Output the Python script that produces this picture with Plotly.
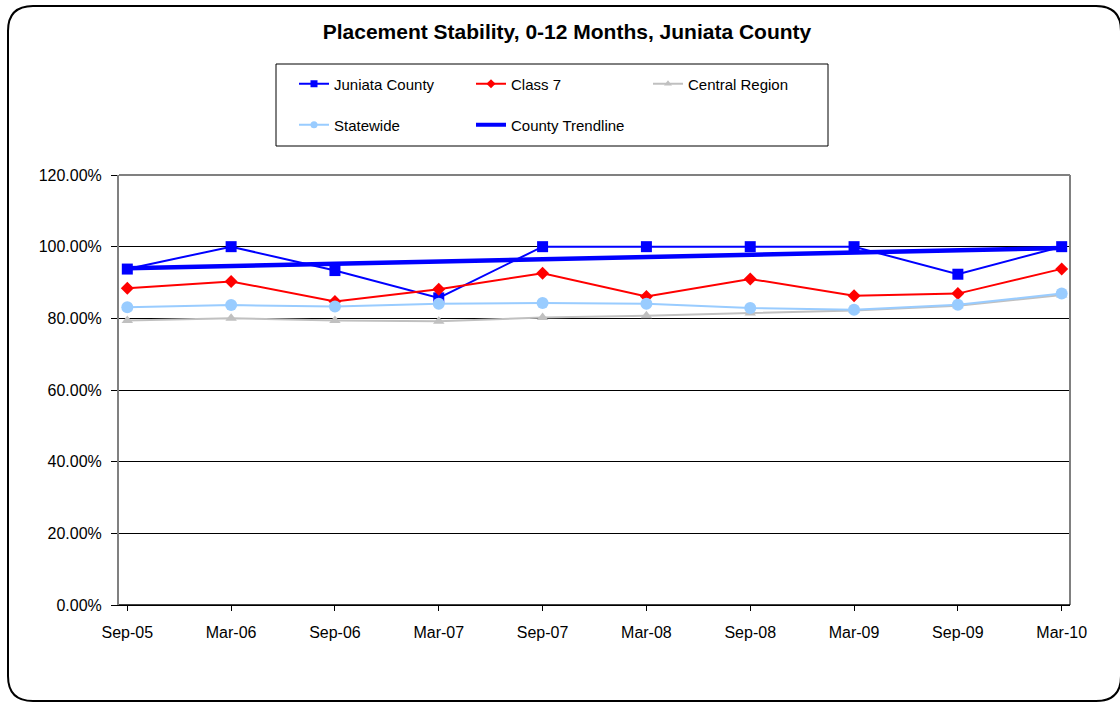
import plotly.graph_objects as go

# Reporting periods and placement-stability rates (percent)
periods = ["Sep-05", "Mar-06", "Sep-06", "Mar-07", "Sep-07",
           "Mar-08", "Sep-08", "Mar-09", "Sep-09", "Mar-10"]
juniata = [93.75, 100.0, 93.33, 85.71, 100.0, 100.0, 100.0, 100.0, 92.31, 100.0]
class7 = [88.4, 90.3, 84.7, 88.1, 92.6, 86.1, 91.0, 86.3, 86.9, 93.8]
central = [79.4, 80.0, 79.4, 79.2, 80.2, 80.7, 81.5, 82.2, 83.5, 86.5]
statewide = [83.1, 83.7, 83.3, 84.1, 84.3, 84.1, 82.9, 82.4, 83.8, 86.9]
trend_periods = ["Sep-05", "Mar-10"]
trend_values = [94.0, 99.6]

y_ticks = [0, 20, 40, 60, 80, 100, 120]
y_tick_text = [f"{v:.2f}%" for v in y_ticks]

# Plot-area geometry in pixels
W, H = 1120, 703
L, R, T, B = 119, 50, 175, 98
PW, PH = W - L - R, H - T - B


def px(x):
    return (x - L) / PW


def py(y):
    return (H - B - y) / PH


FONT = "Liberation Sans, Arial, sans-serif"

series = [
    # name, values, colour, symbol, marker size, legend marker size, legend group
    ("Juniata County", juniata, "#0000FF", "square", 11, 7, "legend"),
    ("Class 7", class7, "#FF0000", "diamond", 10, 7, "legend"),
    ("Central Region", central, "#C0C0C0", "triangle-up", 10, 7, "legend"),
    ("Statewide", statewide, "#99CCFF", "circle", 12, 7, "legend2"),
]

fig = go.Figure()
for name, vals, col, sym, size, _, _ in series:
    fig.add_trace(go.Scatter(
        x=periods, y=vals, name=name, mode="lines+markers",
        line=dict(color=col, width=2),
        marker=dict(symbol=sym, size=size, color=col),
        showlegend=False))
fig.add_trace(go.Scatter(
    x=trend_periods, y=trend_values, name="County Trendline", mode="lines",
    line=dict(color="#0000FF", width=4.5), showlegend=False))

# Legend entries with smaller symbols than the plotted markers
for name, _, col, sym, _, lsize, leg in series:
    fig.add_trace(go.Scatter(
        x=[None], y=[None], name=name, mode="lines+markers",
        line=dict(color=col, width=2),
        marker=dict(symbol=sym, size=lsize, color=col),
        legend=leg, hoverinfo="skip"))
fig.add_trace(go.Scatter(
    x=[None], y=[None], name="County Trendline", mode="lines",
    line=dict(color="#0000FF", width=4), legend="legend2", hoverinfo="skip"))

legend_common = dict(
    orientation="h", xanchor="left", yanchor="middle",
    entrywidth=132, entrywidthmode="pixels",
    font=dict(family=FONT, size=15, color="#000000"),
    bgcolor="rgba(0,0,0,0)", borderwidth=0, itemsizing="trace",
)

# Rounded outer frame of the chart
r = 25
x0, x1, y0, y1 = 8, 1121, 6, 701
frame = (
    f"M {px(x0 + r)},{py(y0)} L {px(x1 - r)},{py(y0)} "
    f"Q {px(x1)},{py(y0)} {px(x1)},{py(y0 + r)} "
    f"L {px(x1)},{py(y1 - r)} Q {px(x1)},{py(y1)} {px(x1 - r)},{py(y1)} "
    f"L {px(x0 + r)},{py(y1)} Q {px(x0)},{py(y1)} {px(x0)},{py(y1 - r)} "
    f"L {px(x0)},{py(y0 + r)} Q {px(x0)},{py(y0)} {px(x0 + r)},{py(y0)} Z"
)

fig.update_layout(
    width=W, height=H,
    margin=dict(l=L, r=R, t=T, b=B),
    paper_bgcolor="#FFFFFF", plot_bgcolor="#FFFFFF",
    font=dict(family=FONT, size=15, color="#000000"),
    title=dict(
        text="<b>Placement Stability, 0-12 Months, Juniata County</b>",
        x=px(567), xref="paper", xanchor="center",
        y=1 - 32 / H, yanchor="middle",
        font=dict(family=FONT, size=21, color="#000000"),
    ),
    legend=dict(x=px(294), y=py(84), **legend_common),
    legend2=dict(x=px(294), y=py(125), **legend_common),
    xaxis=dict(
        type="category", range=[-0.08, 9.08],
        showgrid=False, showline=True, linecolor="#000000", linewidth=1,
        ticks="outside", ticklen=5, tickcolor="#000000",
        ticklabelstandoff=8,
        tickfont=dict(family=FONT, size=16, color="#000000"),
    ),
    yaxis=dict(
        range=[0, 120], tickmode="array", tickvals=y_ticks, ticktext=y_tick_text,
        showgrid=True, gridcolor="#000000", gridwidth=1,
        showline=True, linecolor="#808080", linewidth=2,
        ticks="outside", ticklen=6, tickcolor="#000000",
        ticklabelstandoff=6,
        tickfont=dict(family=FONT, size=16, color="#000000"),
        zeroline=False,
    ),
    shapes=[
        # right and top edges of the plot area
        dict(type="line", xref="paper", yref="paper", x0=1, x1=1, y0=0, y1=1,
             line=dict(color="#808080", width=2)),
        dict(type="line", xref="paper", yref="paper", x0=0, x1=1, y0=1, y1=1,
             line=dict(color="#808080", width=2)),
        # bottom axis line on top of the grey frame
        dict(type="line", xref="paper", yref="paper", x0=0, x1=1, y0=0, y1=0,
             line=dict(color="#000000", width=1.5)),
        # legend box
        dict(type="rect", xref="paper", yref="paper",
             x0=px(276), x1=px(828), y0=py(146), y1=py(64),
             line=dict(color="#000000", width=1)),
        # chart frame
        dict(type="path", xref="paper", yref="paper", path=frame,
             line=dict(color="#000000", width=2)),
    ],
)

fig.write_html("out.html")
